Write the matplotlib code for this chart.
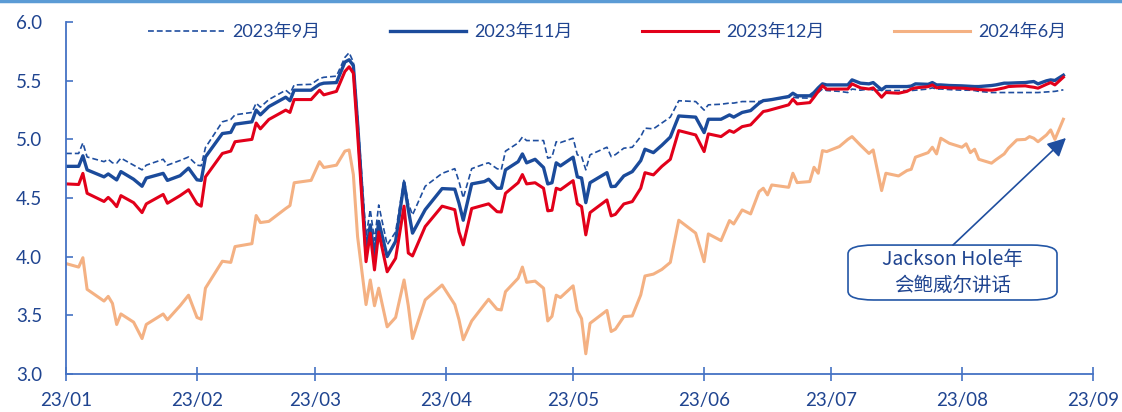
import numpy as np
import matplotlib
matplotlib.use('Agg')
import matplotlib.pyplot as plt
import matplotlib.dates as mdates
from matplotlib.patches import FancyBboxPatch
from matplotlib.lines import Line2D

plt.rcParams['font.family'] = ['Lato', 'Noto Sans CJK SC', 'DejaVu Sans']

# observation dates (2023, MM-DD)
dates = ['01-01', '01-04', '01-05', '01-06', '01-10', '01-11', '01-12', '01-13', '01-14', '01-17',
         '01-19', '01-20', '01-24', '01-25', '01-28', '01-30', '02-01', '02-02', '02-03', '02-07',
         '02-09', '02-10', '02-14', '02-15', '02-16', '02-18', '02-22', '02-23', '02-24', '02-28',
         '03-02', '03-03', '03-06', '03-08', '03-09', '03-10', '03-11', '03-13', '03-14', '03-15',
         '03-16', '03-18', '03-20', '03-22', '03-23', '03-24', '03-27', '03-31', '04-03', '04-04',
         '04-05', '04-07', '04-10', '04-11', '04-13', '04-14', '04-15', '04-18', '04-19', '04-20',
         '04-22', '04-24', '04-25', '04-26', '04-27', '04-28', '05-01', '05-02', '05-03', '05-04',
         '05-05', '05-09', '05-10', '05-11', '05-13', '05-15', '05-17', '05-18', '05-20', '05-22',
         '05-24', '05-26', '05-30', '06-01', '06-02', '06-05', '06-07', '06-08', '06-10', '06-12',
         '06-14', '06-15', '06-16', '06-17', '06-21', '06-22', '06-23', '06-26', '06-27', '06-28',
         '06-29', '06-30', '07-03', '07-05', '07-06', '07-08', '07-10', '07-11', '07-13', '07-14',
         '07-17', '07-19', '07-20', '07-21', '07-24', '07-25', '07-26', '07-27', '07-29', '08-01',
         '08-02', '08-03', '08-04', '08-05', '08-08', '08-09', '08-11', '08-12', '08-14', '08-16',
         '08-17', '08-18', '08-19', '08-21', '08-22', '08-23', '08-25']

# implied rate by contract month (%)
sep23 = [4.88, 4.88, 4.97, 4.85, 4.81, 4.83, 4.80, 4.797, 4.84, 4.78,
         4.74, 4.78, 4.83, 4.78, 4.82, 4.85, 4.78, 4.775, 4.93, 5.15,
         5.17, 5.21, 5.23, 5.31, 5.275, 5.34, 5.42, 5.39, 5.465, 5.47,
         5.52, 5.53, 5.54, 5.70, 5.74, 5.66, 5.20, 4.17, 4.40, 4.14,
         4.44, 4.10, 4.21, 4.66, 4.455, 4.355, 4.60, 4.71, 4.75, 4.64,
         4.50, 4.75, 4.79, 4.80, 4.75, 4.74, 4.90, 4.97, 5.02, 4.99,
         4.99, 4.99, 4.84, 4.85, 4.98, 4.973, 5.01, 4.868, 4.855, 4.74,
         4.868, 4.933, 4.853, 4.87, 4.925, 4.933, 5.024, 5.096, 5.09, 5.14,
         5.19, 5.33, 5.323, 5.25, 5.295, 5.30, 5.31, 5.31, 5.323, 5.323,
         5.323, 5.33, 5.335, 5.34, 5.36, 5.36, 5.355, 5.352, 5.38, 5.40,
         5.43, 5.417, 5.41, 5.40, 5.43, 5.42, 5.43, 5.42, 5.42, 5.417,
         5.417, 5.417, 5.417, 5.42, 5.43, 5.44, 5.43, 5.43, 5.425, 5.42,
         5.42, 5.42, 5.417, 5.41, 5.40, 5.40, 5.40, 5.40, 5.40, 5.40,
         5.40, 5.40, 5.40, 5.405, 5.408, 5.41, 5.423]

nov23 = [4.77, 4.77, 4.86, 4.74, 4.68, 4.705, 4.68, 4.654, 4.725, 4.66,
         4.60, 4.67, 4.71, 4.65, 4.69, 4.755, 4.655, 4.65, 4.85, 5.05,
         5.06, 5.13, 5.15, 5.25, 5.21, 5.28, 5.36, 5.33, 5.42, 5.42,
         5.47, 5.48, 5.485, 5.66, 5.68, 5.63, 5.14, 4.03, 4.27, 4.00,
         4.30, 4.00, 4.13, 4.63, 4.40, 4.20, 4.40, 4.58, 4.575, 4.455,
         4.31, 4.62, 4.64, 4.66, 4.583, 4.583, 4.74, 4.81, 4.876, 4.80,
         4.83, 4.76, 4.62, 4.63, 4.80, 4.774, 4.848, 4.68, 4.67, 4.46,
         4.63, 4.716, 4.597, 4.60, 4.688, 4.725, 4.819, 4.916, 4.887, 4.95,
         5.02, 5.20, 5.19, 5.058, 5.172, 5.172, 5.209, 5.19, 5.23, 5.246,
         5.309, 5.331, 5.335, 5.34, 5.366, 5.394, 5.372, 5.372, 5.40, 5.44,
         5.474, 5.465, 5.465, 5.465, 5.508, 5.48, 5.474, 5.485, 5.423, 5.451,
         5.451, 5.451, 5.455, 5.474, 5.47, 5.485, 5.465, 5.465, 5.46, 5.457,
         5.455, 5.453, 5.451, 5.451, 5.46, 5.465, 5.48, 5.48, 5.483, 5.485,
         5.49, 5.494, 5.474, 5.50, 5.508, 5.503, 5.548]

dec23 = [4.62, 4.615, 4.71, 4.54, 4.47, 4.505, 4.47, 4.426, 4.52, 4.46,
         4.375, 4.45, 4.53, 4.455, 4.52, 4.57, 4.45, 4.43, 4.68, 4.88,
         4.90, 4.98, 5.00, 5.14, 5.09, 5.17, 5.25, 5.23, 5.34, 5.34,
         5.42, 5.38, 5.41, 5.58, 5.62, 5.565, 5.05, 3.956, 4.20, 3.886,
         4.21, 3.87, 3.985, 4.43, 4.03, 4.005, 4.256, 4.43, 4.40, 4.21,
         4.10, 4.41, 4.44, 4.45, 4.383, 4.38, 4.54, 4.63, 4.70, 4.62,
         4.63, 4.583, 4.39, 4.395, 4.583, 4.57, 4.648, 4.45, 4.426, 4.185,
         4.375, 4.483, 4.347, 4.36, 4.449, 4.469, 4.583, 4.716, 4.697, 4.77,
         4.83, 5.075, 5.038, 4.896, 5.047, 5.024, 5.075, 5.06, 5.109, 5.124,
         5.20, 5.238, 5.245, 5.255, 5.295, 5.343, 5.303, 5.314, 5.36, 5.41,
         5.457, 5.429, 5.43, 5.43, 5.474, 5.44, 5.43, 5.44, 5.36, 5.40,
         5.394, 5.41, 5.43, 5.44, 5.45, 5.465, 5.44, 5.445, 5.44, 5.437,
         5.435, 5.43, 5.43, 5.425, 5.42, 5.425, 5.44, 5.451, 5.455, 5.457,
         5.45, 5.445, 5.437, 5.47, 5.485, 5.465, 5.531]

jun24 = [3.94, 3.91, 3.99, 3.72, 3.62, 3.66, 3.60, 3.42, 3.51, 3.44,
         3.30, 3.42, 3.51, 3.46, 3.58, 3.67, 3.48, 3.465, 3.73, 3.96,
         3.95, 4.085, 4.11, 4.35, 4.29, 4.30, 4.41, 4.435, 4.63, 4.65,
         4.81, 4.76, 4.78, 4.90, 4.91, 4.70, 4.17, 3.59, 3.80, 3.58,
         3.73, 3.40, 3.48, 3.80, 3.58, 3.30, 3.63, 3.757, 3.59, 3.46,
         3.29, 3.45, 3.59, 3.635, 3.55, 3.544, 3.70, 3.815, 3.91, 3.78,
         3.79, 3.73, 3.45, 3.49, 3.67, 3.65, 3.75, 3.54, 3.47, 3.17,
         3.43, 3.54, 3.36, 3.38, 3.487, 3.493, 3.672, 3.834, 3.85, 3.89,
         3.95, 4.31, 4.20, 3.956, 4.193, 4.136, 4.307, 4.278, 4.398, 4.364,
         4.554, 4.583, 4.526, 4.611, 4.591, 4.711, 4.631, 4.64, 4.762, 4.711,
         4.904, 4.896, 4.939, 5.00, 5.024, 4.95, 4.88, 4.91, 4.563, 4.711,
         4.688, 4.734, 4.745, 4.848, 4.887, 4.933, 4.876, 5.01, 4.967, 4.933,
         4.962, 4.887, 4.916, 4.83, 4.797, 4.825, 4.876, 4.925, 4.996, 5.00,
         5.024, 5.01, 4.98, 5.038, 5.081, 5.00, 5.172]

labels = ['2023年9月', '2023年11月', '2023年12月', '2024年6月']
note = 'Jackson Hole年\n会鲍威尔讲话'

x = np.array(['2023-' + d for d in dates], dtype='datetime64[D]')

axis_c = '#4472C4'
text_c = '#1F4490'

fig = plt.figure(figsize=(11.22, 4.12), dpi=100)
ax = fig.add_axes([0.0588, 0.093, 0.9153, 0.853])

ax.plot(x, sep23, color='#1F4E9F', lw=1.2, dashes=(3.5, 1.8), label=labels[0])
ax.plot(x, nov23, color='#1B4B9B', lw=2.4, label=labels[1])
ax.plot(x, dec23, color='#E2001A', lw=2.2, label=labels[2])
ax.plot(x, jun24, color='#F4B183', lw=2.2, label=labels[3])

ax.set_ylim(3.0, 6.0)
ax.set_yticks(np.arange(3.0, 6.01, 0.5))
ax.yaxis.set_major_formatter(plt.FormatStrFormatter('%.1f'))
ax.set_xlim(np.datetime64('2023-01-01'), np.datetime64('2023-09-01'))
ax.xaxis.set_major_locator(mdates.MonthLocator())
ax.xaxis.set_major_formatter(mdates.DateFormatter('%y/%m'))

for s in ['top', 'right']:
    ax.spines[s].set_visible(False)
for s in ['left', 'bottom']:
    ax.spines[s].set_color(axis_c)
    ax.spines[s].set_linewidth(1.3)

ax.tick_params(axis='y', direction='in', length=5, width=1.2, color=axis_c,
               labelcolor=text_c, labelsize=13.5, pad=17)
ax.tick_params(axis='x', direction='inout', length=10, width=1.2, color=axis_c,
               labelcolor=text_c, labelsize=13.5, pad=8)

leg = ax.legend(loc='center', bbox_to_anchor=(0.527, 0.972), ncol=4, frameon=False,
                fontsize=13, handlelength=4.2, handletextpad=0.45, columnspacing=3.85)
for t in leg.get_texts():
    t.set_color(text_c)

# annotation box with arrow
box = FancyBboxPatch((0.7615, 0.2097), 0.2035, 0.1563, transform=ax.transAxes,
                     boxstyle='round,pad=0,rounding_size=0.025', mutation_aspect=1.0,
                     fc='white', ec='#2356A6', lw=1.2, zorder=5)
ax.add_patch(box)
ax.text(0.863, 0.288, note, transform=ax.transAxes, ha='center', va='center',
        fontsize=14, color=text_c, linespacing=1.35, zorder=6,
        family=['Noto Sans CJK SC', 'DejaVu Sans'])
ax.annotate('', xy=(0.9737, 0.6707), xycoords='axes fraction',
            xytext=(0.8637, 0.366), textcoords='axes fraction',
            arrowprops=dict(arrowstyle='-|>', color='#1F4E9F', lw=1.2,
                            mutation_scale=28, shrinkA=0, shrinkB=0), zorder=6)

fig.add_artist(Line2D([0, 1], [0.997, 0.997], transform=fig.transFigure,
                      color='#5B9BD5', lw=2.5))

fig.savefig('out.png', dpi=100)
